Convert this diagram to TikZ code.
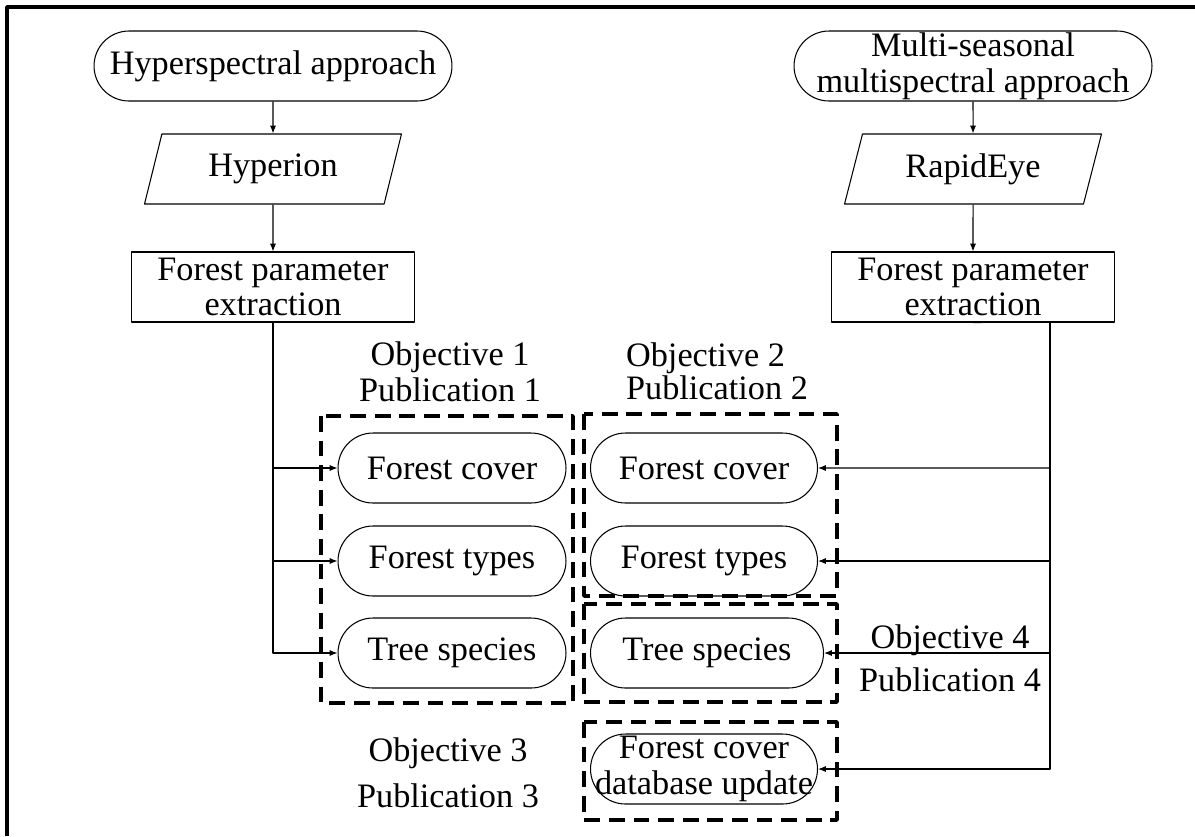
\documentclass[tikz,border=0pt]{standalone}
\usepackage{fontspec}
\setmainfont{Liberation Serif}
\usetikzlibrary{shapes.geometric,arrows.meta}

\begin{document}
\begin{tikzpicture}[x=0.02cm,y=-0.02cm,join=round, %flowchart, positions in pixels
         font=\fontsize{19.5pt}{20.4pt}\selectfont,
         pill/.style={draw,rectangle,rounded corners=0.7cm,minimum height=1.4cm,inner sep=0pt,align=center,line width=0.6pt},
         data/.style={draw,trapezium,trapezium left angle=60,trapezium right angle=120,trapezium stretches body,minimum width=5.14cm,minimum height=1.4cm,inner sep=0pt,line width=0.6pt},
         proc/.style={draw,rectangle,minimum width=5.66cm,minimum height=1.4cm,inner sep=0pt,align=center,line width=0.6pt},
         objbox/.style={draw,line width=2pt,dash pattern=on 9pt off 5pt},
         objtext/.style={align=center,inner sep=0pt},
         conn/.style={line width=0.6pt,-{Latex[length=4.5pt,width=3.5pt]}}]
         \useasboundingbox (0,0) rectangle (1195,836);
         \draw[line width=2pt] (7,836) -- (7,7) -- (1195,7);
         % hyperspectral branch
         \node[pill,minimum width=7.16cm] (hyp) at (273,66) {Hyperspectral approach};
         \node[data] (hyperion) at (273,169) {Hyperion};
         \node[proc] (fpeA) at (273,287) {Forest parameter\\extraction};
         % multispectral branch
         \node[pill,minimum width=7.16cm] (multi) at (973,66) {Multi-seasonal\\multispectral approach};
         \node[data] (rapideye) at (973,169) {RapidEye};
         \node[proc] (fpeB) at (973,287) {Forest parameter\\extraction};
         \draw[conn] (hyp) -- (hyperion);
         \draw[conn] (hyperion) -- (fpeA);
         \draw[conn] (multi) -- (rapideye);
         \draw[conn] (rapideye) -- (fpeB);
         % objective boxes
         \draw[objbox] (321,416) rectangle (573,703);
         \draw[objbox] (584,414) rectangle (837,596);
         \draw[objbox] (584,604) rectangle (837,702);
         \draw[objbox] (584,722) rectangle (837,820);
         \node[pill,minimum width=4.56cm] (coverA) at (452,468) {Forest cover};
         \node[pill,minimum width=4.56cm] (typesA) at (452,561) {Forest types};
         \node[pill,minimum width=4.56cm] (speciesA) at (452,653) {Tree species};
         \node[pill,minimum width=4.54cm] (coverB) at (704,468) {Forest cover};
         \node[pill,minimum width=4.54cm] (typesB) at (704,561) {Forest types};
         \node[pill,minimum width=4.66cm] (speciesB) at (707,653) {Tree species};
         \node[pill,minimum width=4.54cm] (update) at (704,769) {Forest cover\\database update};
         \node[objtext] (obj1) at (450,372) {Objective 1\\Publication 1};
         \node[objtext,align=left] (obj2) at (717,371) {Objective 2\\[-0.06cm]Publication 2};
         \node[objtext] (obj3) at (448,773) {Objective 3\\[0.2cm]Publication 3};
         \node[objtext] (obj4) at (950,658) {Objective 4\\[0.14cm]Publication 4};
         % connectors
         \draw[conn] (fpeA.south) |- (coverA.west);
         \draw[conn] (fpeA.south) |- (typesA.west);
         \draw[conn] (fpeA.south) |- (speciesA.west);
         \coordinate (trunk) at (1050,322);
         \draw[conn] (fpeB.south) -- (trunk) |- (coverB.east);
         \draw[conn] (trunk) |- (typesB.east);
         \draw[conn] (trunk) |- (speciesB.east);
         \draw[conn] (trunk) |- (update.east);
\end{tikzpicture}
\end{document}
